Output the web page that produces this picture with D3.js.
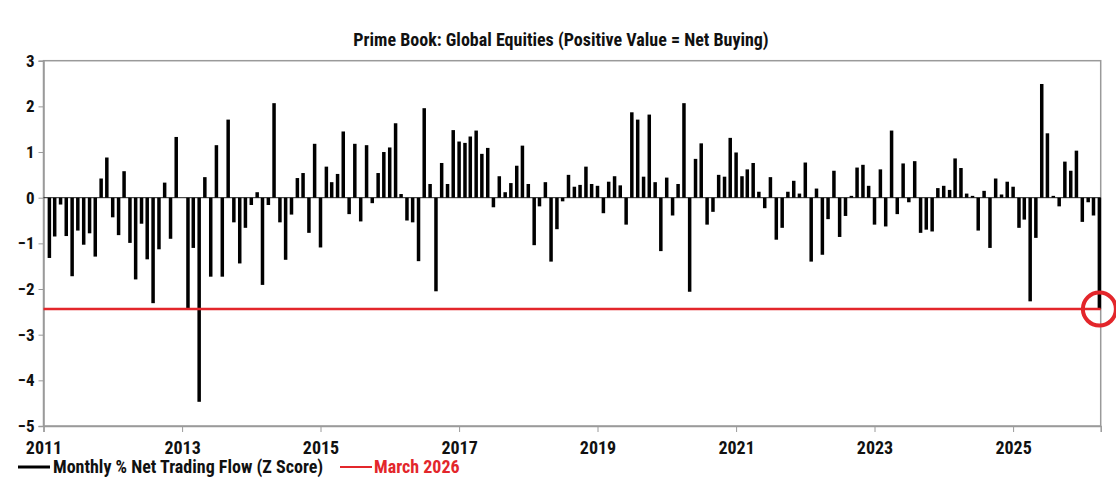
<!DOCTYPE html>
<html>
<head>
<meta charset="utf-8">
<script src="https://d3js.org/d3.v7.min.js"></script>
<style>
  html, body { margin: 0; padding: 0; background: #fff; overflow: hidden; }
  text { font-family: 'Roboto Condensed', 'Liberation Sans Narrow', 'DejaVu Sans Condensed', Roboto, sans-serif; font-weight: bold; fill: #111; }
</style>
</head>
<body>
<div id="chart"></div>
<script>
// monthly z-scores, Jan 2011 .. Mar 2026 (one row per year)
var firstMonth = "2011-01";
var zScores = [
  -1.32, -0.85, -0.15, -0.84, -1.72, -0.72, -1.03, -0.78, -1.29, 0.42, 0.88, -0.43,   // 2011
  -0.82, 0.58, -0.99, -1.79, -0.57, -1.35, -2.31, -1.13, 0.33, -0.90, 1.33, 0.00,     // 2012
  -2.42, -1.10, -4.47, 0.45, -1.73, 1.15, -1.73, 1.71, -0.54, -1.44, -0.66, -0.16,    // 2013
  0.12, -1.91, -0.16, 2.07, -0.54, -1.36, -0.37, 0.43, 0.54, -0.77, 1.18, -1.09,      // 2014
  0.68, 0.34, 0.52, 1.45, -0.36, 1.18, -0.52, 1.15, -0.12, 0.54, 1.00, 1.10,          // 2015
  1.63, 0.08, -0.50, -0.54, -1.39, 1.96, 0.30, -2.05, 0.76, 0.30, 1.48, 1.23,         // 2016
  1.20, 1.34, 1.47, 0.96, 1.09, -0.21, 0.47, 0.12, 0.32, 0.70, 1.14, 0.30,            // 2017
  -1.04, -0.19, 0.34, -1.40, -0.69, -0.08, 0.50, 0.24, 0.28, 0.68, 0.30, 0.26,        // 2018
  -0.34, 0.35, 0.47, 0.27, -0.59, 1.87, 1.71, 0.46, 1.82, 0.34, -1.17, 0.44,          // 2019
  -0.39, 0.30, 2.07, -2.06, 0.85, 1.19, -0.59, -0.31, 0.50, 0.46, 1.31, 0.99,         // 2020
  0.47, 0.62, 0.76, 0.13, -0.23, 0.45, -0.92, -0.66, 0.13, 0.37, 0.09, 0.77,          // 2021
  -1.40, 0.20, -1.25, -0.47, 0.59, -0.86, -0.40, 0.04, 0.66, 0.72, 0.26, -0.59,       // 2022
  0.62, -0.63, 1.47, -0.36, 0.75, -0.10, 0.80, -0.77, -0.70, -0.74, 0.21, 0.26,       // 2023
  0.17, 0.86, 0.65, 0.09, 0.04, -0.72, 0.15, -1.10, 0.42, 0.07, 0.35, 0.24,           // 2024
  -0.66, -0.48, -2.27, -0.88, 2.49, 1.41, 0.04, -0.19, 0.79, 0.59, 1.03, -0.53,       // 2025
  -0.10, -0.39, -2.44                                                                 // 2026
];
var yTicks = [3, 2, 1, 0, -1, -2, -3, -4, -5];
var xTickYears = [2011, 2013, 2015, 2017, 2019, 2021, 2023, 2025];
var marchLevel = -2.44;
var titleText = "Prime Book: Global Equities (Positive Value = Net Buying)";
var seriesName = "Monthly % Net Trading Flow (Z Score)";
var markerName = "March 2026";

var W = 1116, H = 499;
// note: "top" is a read-only window global, so use other names
var plotL = 43.5, plotR = 1100.7, plotT = 60.7, plotB = 426;
var red = "#e3262b";

var svg = d3.select("#chart").append("svg")
    .attr("width", W).attr("height", H)
    .style("display", "block");

var parseMonth = d3.timeParse("%Y-%m");
var start = parseMonth(firstMonth);
// each bar sits at the end of its month
var data = zScores.map(function (v, i) {
    return { date: d3.timeMonth.offset(start, i + 1), value: v };
});

var x = d3.scaleTime()
    .domain([new Date(2011, 0, 1), new Date(2026, 3, 8)])
    .range([plotL, plotR]);
var y = d3.scaleLinear().domain([-5, 3]).range([plotB, plotT]);

var barW = 3.5;

// frame
svg.append("rect")
    .attr("x", plotL).attr("y", plotT)
    .attr("width", plotR - plotL).attr("height", plotB - plotT)
    .attr("fill", "none").attr("stroke", "#9a9a9a").attr("stroke-width", 1.5);

// title
svg.append("text")
    .attr("x", 561).attr("y", 46)
    .attr("text-anchor", "middle")
    .style("font-size", "18px")
    .text(titleText);

// y axis
var yAxis = svg.append("g")
    .attr("transform", "translate(" + plotL + ",0)")
    .call(d3.axisLeft(y).tickValues(yTicks).tickSize(5).tickPadding(4).tickFormat(d3.format("d")));
yAxis.attr("font-family", null);
yAxis.select(".domain").attr("stroke", "#9a9a9a").attr("stroke-width", 1.5);
yAxis.selectAll(".tick line").attr("stroke", "#9a9a9a");
yAxis.selectAll(".tick text").style("font-size", "17px").attr("fill", "#111");

// x axis
var xAxis = svg.append("g")
    .attr("transform", "translate(0," + plotB + ")")
    .call(d3.axisBottom(x)
        .tickValues(xTickYears.map(function (yr) { return new Date(yr, 0, 1); }))
        .tickSize(6).tickPadding(9)
        .tickFormat(d3.timeFormat("%Y")));
xAxis.attr("font-family", null);
xAxis.select(".domain").attr("stroke", "#9a9a9a").attr("stroke-width", 1.5);
xAxis.selectAll(".tick line").attr("stroke", "#9a9a9a");
xAxis.selectAll(".tick text").style("font-size", "18px").attr("fill", "#111");

// zero line
svg.append("line")
    .attr("x1", plotL).attr("x2", plotR)
    .attr("y1", y(0)).attr("y2", y(0))
    .attr("stroke", "#222").attr("stroke-width", 1);

// bars
svg.append("g").selectAll("rect")
    .data(data)
    .enter().append("rect")
    .attr("x", function (d) { return x(d.date) - barW / 2; })
    .attr("y", function (d) { return y(Math.max(0, d.value)); })
    .attr("width", barW)
    .attr("height", function (d) { return Math.abs(y(d.value) - y(0)); })
    .attr("fill", "#000");

// March 2026 level
svg.append("line")
    .attr("x1", plotL).attr("x2", plotR)
    .attr("y1", y(marchLevel)).attr("y2", y(marchLevel))
    .attr("stroke", red).attr("stroke-width", 2.5);

var last = data[data.length - 1];
svg.append("circle")
    .attr("cx", x(last.date)).attr("cy", y(marchLevel))
    .attr("r", 16.5)
    .attr("fill", "none").attr("stroke", red).attr("stroke-width", 4);

// legend
var legend = svg.append("g").attr("transform", "translate(0,467)");
legend.append("line")
    .attr("x1", 18).attr("x2", 50)
    .attr("stroke", "#000").attr("stroke-width", 3);
legend.append("text")
    .attr("x", 53).attr("dy", "0.35em")
    .style("font-size", "18px")
    .text(seriesName);
legend.append("line")
    .attr("x1", 340).attr("x2", 372)
    .attr("stroke", red).attr("stroke-width", 2);
legend.append("text")
    .attr("x", 374).attr("dy", "0.35em")
    .style("font-size", "18px")
    .style("fill", red)
    .text(markerName);
</script>
</body>
</html>
